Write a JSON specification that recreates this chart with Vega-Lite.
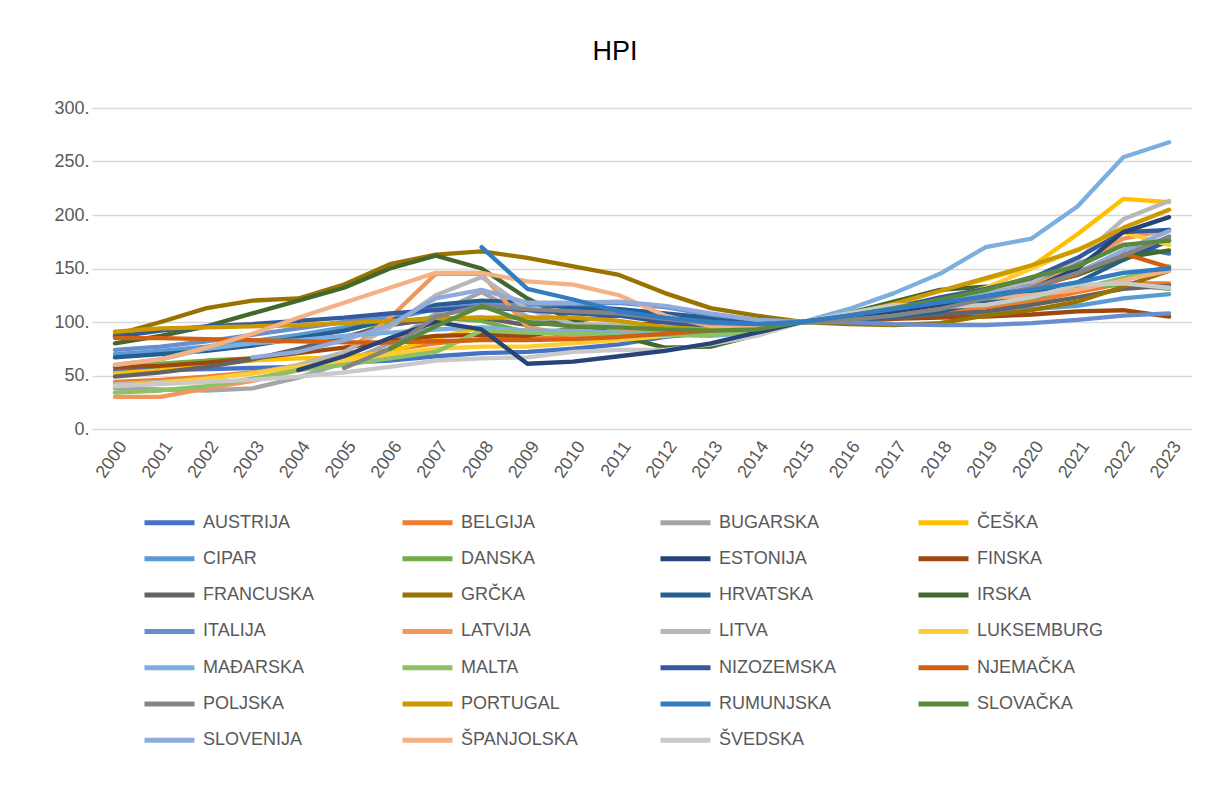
{
 "$schema": "https://vega.github.io/schema/vega-lite/v6.json",
 "width": 1100,
 "height": 321,
 "autosize": {"type": "none"},
 "padding": {"left": 92, "top": 108, "right": 17, "bottom": 365},
 "background": "white",
 "title": {"text": "HPI", "fontSize": 27, "font": "Liberation Sans", "fontWeight": "normal", "color": "#000000", "anchor": "middle", "offset": 33, "dx": -27},
 "data": {"values": [
  {"year":"2000","AUSTRIJA":55,"BELGIJA":44,"BUGARSKA":38,"ČEŠKA":52,"CIPAR":70,"DANSKA":58,"ESTONIJA":null,"FINSKA":58,"FRANCUSKA":49,"GRČKA":88,"HRVATSKA":67,"IRSKA":80,"ITALIJA":74,"LATVIJA":30,"LITVA":42,"LUKSEMBURG":40,"MAĐARSKA":60,"MALTA":34,"NIZOZEMSKA":86,"NJEMAČKA":85,"POLJSKA":null,"PORTUGAL":91,"RUMUNJSKA":null,"SLOVAČKA":null,"SLOVENIJA":null,"ŠPANJOLSKA":60,"ŠVEDSKA":40},
  {"year":"2001","AUSTRIJA":55,"BELGIJA":46,"BUGARSKA":37,"ČEŠKA":55,"CIPAR":73,"DANSKA":61,"ESTONIJA":null,"FINSKA":59,"FRANCUSKA":53,"GRČKA":100,"HRVATSKA":70,"IRSKA":87,"ITALIJA":77,"LATVIJA":30,"LITVA":44,"LUKSEMBURG":43,"MAĐARSKA":65,"MALTA":36,"NIZOZEMSKA":92,"NJEMAČKA":85,"POLJSKA":null,"PORTUGAL":94,"RUMUNJSKA":null,"SLOVAČKA":null,"SLOVENIJA":null,"ŠPANJOLSKA":65,"ŠVEDSKA":42},
  {"year":"2002","AUSTRIJA":56,"BELGIJA":49,"BUGARSKA":36,"ČEŠKA":60,"CIPAR":77,"DANSKA":64,"ESTONIJA":null,"FINSKA":62,"FRANCUSKA":58,"GRČKA":113,"HRVATSKA":73,"IRSKA":96,"ITALIJA":82,"LATVIJA":38,"LITVA":47,"LUKSEMBURG":47,"MAĐARSKA":75,"MALTA":40,"NIZOZEMSKA":96,"NJEMAČKA":84,"POLJSKA":null,"PORTUGAL":95,"RUMUNJSKA":null,"SLOVAČKA":null,"SLOVENIJA":null,"ŠPANJOLSKA":76,"ŠVEDSKA":44},
  {"year":"2003","AUSTRIJA":57,"BELGIJA":53,"BUGARSKA":38,"ČEŠKA":64,"CIPAR":82,"DANSKA":66,"ESTONIJA":null,"FINSKA":66,"FRANCUSKA":65,"GRČKA":120,"HRVATSKA":78,"IRSKA":108,"ITALIJA":88,"LATVIJA":45,"LITVA":52,"LUKSEMBURG":52,"MAĐARSKA":80,"MALTA":47,"NIZOZEMSKA":98,"NJEMAČKA":83,"POLJSKA":null,"PORTUGAL":96,"RUMUNJSKA":null,"SLOVAČKA":null,"SLOVENIJA":67,"ŠPANJOLSKA":89,"ŠVEDSKA":46},
  {"year":"2004","AUSTRIJA":58,"BELGIJA":58,"BUGARSKA":48,"ČEŠKA":66,"CIPAR":88,"DANSKA":72,"ESTONIJA":55,"FINSKA":71,"FRANCUSKA":75,"GRČKA":122,"HRVATSKA":85,"IRSKA":120,"ITALIJA":94,"LATVIJA":55,"LITVA":60,"LUKSEMBURG":58,"MAĐARSKA":83,"MALTA":55,"NIZOZEMSKA":101,"NJEMAČKA":82,"POLJSKA":null,"PORTUGAL":97,"RUMUNJSKA":null,"SLOVAČKA":null,"SLOVENIJA":72,"ŠPANJOLSKA":104,"ŠVEDSKA":49},
  {"year":"2005","AUSTRIJA":62,"BELGIJA":66,"BUGARSKA":62,"ČEŠKA":67,"CIPAR":95,"DANSKA":84,"ESTONIJA":68,"FINSKA":76,"FRANCUSKA":86,"GRČKA":135,"HRVATSKA":92,"IRSKA":132,"ITALIJA":100,"LATVIJA":70,"LITVA":72,"LUKSEMBURG":64,"MAĐARSKA":87,"MALTA":60,"NIZOZEMSKA":104,"NJEMAČKA":81,"POLJSKA":57,"PORTUGAL":99,"RUMUNJSKA":null,"SLOVAČKA":null,"SLOVENIJA":83,"ŠPANJOLSKA":118,"ŠVEDSKA":53},
  {"year":"2006","AUSTRIJA":64,"BELGIJA":74,"BUGARSKA":80,"ČEŠKA":72,"CIPAR":103,"DANSKA":100,"ESTONIJA":85,"FINSKA":82,"FRANCUSKA":97,"GRČKA":154,"HRVATSKA":102,"IRSKA":150,"ITALIJA":106,"LATVIJA":104,"LITVA":95,"LUKSEMBURG":70,"MAĐARSKA":90,"MALTA":66,"NIZOZEMSKA":108,"NJEMAČKA":81,"POLJSKA":75,"PORTUGAL":101,"RUMUNJSKA":null,"SLOVAČKA":75,"SLOVENIJA":97,"ŠPANJOLSKA":132,"ŠVEDSKA":58},
  {"year":"2007","AUSTRIJA":68,"BELGIJA":80,"BUGARSKA":108,"ČEŠKA":85,"CIPAR":112,"DANSKA":104,"ESTONIJA":100,"FINSKA":87,"FRANCUSKA":103,"GRČKA":163,"HRVATSKA":116,"IRSKA":162,"ITALIJA":112,"LATVIJA":145,"LITVA":125,"LUKSEMBURG":75,"MAĐARSKA":93,"MALTA":72,"NIZOZEMSKA":111,"NJEMAČKA":82,"POLJSKA":105,"PORTUGAL":103,"RUMUNJSKA":null,"SLOVAČKA":96,"SLOVENIJA":122,"ŠPANJOLSKA":146,"ŠVEDSKA":64},
  {"year":"2008","AUSTRIJA":71,"BELGIJA":84,"BUGARSKA":128,"ČEŠKA":95,"CIPAR":118,"DANSKA":101,"ESTONIJA":93,"FINSKA":88,"FRANCUSKA":104,"GRČKA":166,"HRVATSKA":120,"IRSKA":150,"ITALIJA":116,"LATVIJA":145,"LITVA":142,"LUKSEMBURG":77,"MAĐARSKA":95,"MALTA":92,"NIZOZEMSKA":114,"NJEMAČKA":83,"POLJSKA":115,"PORTUGAL":104,"RUMUNJSKA":170,"SLOVAČKA":115,"SLOVENIJA":130,"ŠPANJOLSKA":146,"ŠVEDSKA":66},
  {"year":"2009","AUSTRIJA":72,"BELGIJA":84,"BUGARSKA":105,"ČEŠKA":92,"CIPAR":117,"DANSKA":90,"ESTONIJA":61,"FINSKA":87,"FRANCUSKA":97,"GRČKA":160,"HRVATSKA":118,"IRSKA":122,"ITALIJA":116,"LATVIJA":95,"LITVA":112,"LUKSEMBURG":77,"MAĐARSKA":92,"MALTA":90,"NIZOZEMSKA":111,"NJEMAČKA":83,"POLJSKA":112,"PORTUGAL":104,"RUMUNJSKA":131,"SLOVAČKA":100,"SLOVENIJA":118,"ŠPANJOLSKA":138,"ŠVEDSKA":67},
  {"year":"2010","AUSTRIJA":75,"BELGIJA":87,"BUGARSKA":95,"ČEŠKA":91,"CIPAR":116,"DANSKA":91,"ESTONIJA":63,"FINSKA":94,"FRANCUSKA":101,"GRČKA":152,"HRVATSKA":113,"IRSKA":101,"ITALIJA":117,"LATVIJA":88,"LITVA":98,"LUKSEMBURG":80,"MAĐARSKA":92,"MALTA":89,"NIZOZEMSKA":108,"NJEMAČKA":84,"POLJSKA":110,"PORTUGAL":104,"RUMUNJSKA":121,"SLOVAČKA":96,"SLOVENIJA":118,"ŠPANJOLSKA":135,"ŠVEDSKA":72},
  {"year":"2011","AUSTRIJA":79,"BELGIJA":90,"BUGARSKA":93,"ČEŠKA":90,"CIPAR":112,"DANSKA":89,"ESTONIJA":68,"FINSKA":97,"FRANCUSKA":106,"GRČKA":144,"HRVATSKA":112,"IRSKA":87,"ITALIJA":118,"LATVIJA":90,"LITVA":97,"LUKSEMBURG":83,"MAĐARSKA":90,"MALTA":88,"NIZOZEMSKA":106,"NJEMAČKA":86,"POLJSKA":108,"PORTUGAL":101,"RUMUNJSKA":110,"SLOVAČKA":95,"SLOVENIJA":119,"ŠPANJOLSKA":125,"ŠVEDSKA":74},
  {"year":"2012","AUSTRIJA":86,"BELGIJA":93,"BUGARSKA":93,"ČEŠKA":89,"CIPAR":107,"DANSKA":87,"ESTONIJA":73,"FINSKA":99,"FRANCUSKA":106,"GRČKA":127,"HRVATSKA":108,"IRSKA":76,"ITALIJA":114,"LATVIJA":90,"LITVA":96,"LUKSEMBURG":87,"MAĐARSKA":88,"MALTA":88,"NIZOZEMSKA":100,"NJEMAČKA":89,"POLJSKA":103,"PORTUGAL":95,"RUMUNJSKA":104,"SLOVAČKA":93,"SLOVENIJA":115,"ŠPANJOLSKA":106,"ŠVEDSKA":74},
  {"year":"2013","AUSTRIJA":90,"BELGIJA":96,"BUGARSKA":92,"ČEŠKA":90,"CIPAR":101,"DANSKA":89,"ESTONIJA":80,"FINSKA":100,"FRANCUSKA":103,"GRČKA":113,"HRVATSKA":104,"IRSKA":77,"ITALIJA":107,"LATVIJA":91,"LITVA":96,"LUKSEMBURG":91,"MAĐARSKA":87,"MALTA":88,"NIZOZEMSKA":94,"NJEMAČKA":92,"POLJSKA":99,"PORTUGAL":93,"RUMUNJSKA":100,"SLOVAČKA":92,"SLOVENIJA":108,"ŠPANJOLSKA":96,"ŠVEDSKA":79},
  {"year":"2014","AUSTRIJA":96,"BELGIJA":98,"BUGARSKA":94,"ČEŠKA":93,"CIPAR":98,"DANSKA":94,"ESTONIJA":90,"FINSKA":100,"FRANCUSKA":101,"GRČKA":106,"HRVATSKA":101,"IRSKA":88,"ITALIJA":102,"LATVIJA":97,"LITVA":98,"LUKSEMBURG":95,"MAĐARSKA":90,"MALTA":91,"NIZOZEMSKA":95,"NJEMAČKA":95,"POLJSKA":98,"PORTUGAL":96,"RUMUNJSKA":98,"SLOVAČKA":93,"SLOVENIJA":102,"ŠPANJOLSKA":96,"ŠVEDSKA":87},
  {"year":"2015","AUSTRIJA":100,"BELGIJA":100,"BUGARSKA":100,"ČEŠKA":100,"CIPAR":100,"DANSKA":100,"ESTONIJA":100,"FINSKA":100,"FRANCUSKA":100,"GRČKA":100,"HRVATSKA":100,"IRSKA":100,"ITALIJA":100,"LATVIJA":100,"LITVA":100,"LUKSEMBURG":100,"MAĐARSKA":100,"MALTA":100,"NIZOZEMSKA":100,"NJEMAČKA":100,"POLJSKA":100,"PORTUGAL":100,"RUMUNJSKA":100,"SLOVAČKA":100,"SLOVENIJA":100,"ŠPANJOLSKA":100,"ŠVEDSKA":100},
  {"year":"2016","AUSTRIJA":108,"BELGIJA":102,"BUGARSKA":107,"ČEŠKA":107,"CIPAR":102,"DANSKA":104,"ESTONIJA":105,"FINSKA":101,"FRANCUSKA":101,"GRČKA":98,"HRVATSKA":101,"IRSKA":108,"ITALIJA":100,"LATVIJA":107,"LITVA":105,"LUKSEMBURG":106,"MAĐARSKA":112,"MALTA":105,"NIZOZEMSKA":105,"NJEMAČKA":105,"POLJSKA":102,"PORTUGAL":107,"RUMUNJSKA":106,"SLOVAČKA":106,"SLOVENIJA":103,"ŠPANJOLSKA":104,"ŠVEDSKA":108},
  {"year":"2017","AUSTRIJA":114,"BELGIJA":106,"BUGARSKA":115,"ČEŠKA":119,"CIPAR":104,"DANSKA":109,"ESTONIJA":110,"FINSKA":103,"FRANCUSKA":104,"GRČKA":97,"HRVATSKA":105,"IRSKA":119,"ITALIJA":98,"LATVIJA":113,"LITVA":113,"LUKSEMBURG":112,"MAĐARSKA":127,"MALTA":110,"NIZOZEMSKA":113,"NJEMAČKA":110,"POLJSKA":106,"PORTUGAL":117,"RUMUNJSKA":112,"SLOVAČKA":113,"SLOVENIJA":112,"ŠPANJOLSKA":110,"ŠVEDSKA":116},
  {"year":"2018","AUSTRIJA":120,"BELGIJA":109,"BUGARSKA":122,"ČEŠKA":129,"CIPAR":106,"DANSKA":113,"ESTONIJA":116,"FINSKA":104,"FRANCUSKA":107,"GRČKA":99,"HRVATSKA":110,"IRSKA":130,"ITALIJA":97,"LATVIJA":120,"LITVA":120,"LUKSEMBURG":120,"MAĐARSKA":145,"MALTA":116,"NIZOZEMSKA":123,"NJEMAČKA":116,"POLJSKA":112,"PORTUGAL":129,"RUMUNJSKA":118,"SLOVAČKA":121,"SLOVENIJA":120,"ŠPANJOLSKA":117,"ŠVEDSKA":114},
  {"year":"2019","AUSTRIJA":128,"BELGIJA":114,"BUGARSKA":130,"ČEŠKA":140,"CIPAR":109,"DANSKA":117,"ESTONIJA":124,"FINSKA":105,"FRANCUSKA":110,"GRČKA":106,"HRVATSKA":119,"IRSKA":133,"ITALIJA":97,"LATVIJA":127,"LITVA":129,"LUKSEMBURG":132,"MAĐARSKA":170,"MALTA":122,"NIZOZEMSKA":131,"NJEMAČKA":122,"POLJSKA":122,"PORTUGAL":141,"RUMUNJSKA":124,"SLOVAČKA":130,"SLOVENIJA":127,"ŠPANJOLSKA":123,"ŠVEDSKA":116},
  {"year":"2020","AUSTRIJA":138,"BELGIJA":119,"BUGARSKA":136,"ČEŠKA":152,"CIPAR":112,"DANSKA":122,"ESTONIJA":131,"FINSKA":107,"FRANCUSKA":116,"GRČKA":111,"HRVATSKA":128,"IRSKA":133,"ITALIJA":99,"LATVIJA":133,"LITVA":138,"LUKSEMBURG":150,"MAĐARSKA":178,"MALTA":125,"NIZOZEMSKA":141,"NJEMAČKA":131,"POLJSKA":132,"PORTUGAL":153,"RUMUNJSKA":130,"SLOVAČKA":142,"SLOVENIJA":133,"ŠPANJOLSKA":125,"ŠVEDSKA":123},
  {"year":"2021","AUSTRIJA":154,"BELGIJA":128,"BUGARSKA":147,"ČEŠKA":182,"CIPAR":115,"DANSKA":133,"ESTONIJA":150,"FINSKA":110,"FRANCUSKA":123,"GRČKA":119,"HRVATSKA":137,"IRSKA":144,"ITALIJA":102,"LATVIJA":152,"LITVA":158,"LUKSEMBURG":168,"MAĐARSKA":208,"MALTA":131,"NIZOZEMSKA":160,"NJEMAČKA":145,"POLJSKA":146,"PORTUGAL":167,"RUMUNJSKA":137,"SLOVAČKA":152,"SLOVENIJA":146,"ŠPANJOLSKA":130,"ŠVEDSKA":135},
  {"year":"2022","AUSTRIJA":172,"BELGIJA":136,"BUGARSKA":164,"ČEŠKA":215,"CIPAR":122,"DANSKA":135,"ESTONIJA":184,"FINSKA":111,"FRANCUSKA":131,"GRČKA":133,"HRVATSKA":158,"IRSKA":160,"ITALIJA":106,"LATVIJA":178,"LITVA":196,"LUKSEMBURG":184,"MAĐARSKA":254,"MALTA":141,"NIZOZEMSKA":184,"NJEMAČKA":164,"POLJSKA":162,"PORTUGAL":188,"RUMUNJSKA":146,"SLOVAČKA":172,"SLOVENIJA":167,"ŠPANJOLSKA":139,"ŠVEDSKA":136},
  {"year":"2023","AUSTRIJA":164,"BELGIJA":136,"BUGARSKA":178,"ČEŠKA":212,"CIPAR":126,"DANSKA":131,"ESTONIJA":198,"FINSKA":105,"FRANCUSKA":134,"GRČKA":148,"HRVATSKA":176,"IRSKA":167,"ITALIJA":108,"LATVIJA":186,"LITVA":213,"LUKSEMBURG":172,"MAĐARSKA":268,"MALTA":152,"NIZOZEMSKA":186,"NJEMAČKA":151,"POLJSKA":180,"PORTUGAL":205,"RUMUNJSKA":150,"SLOVAČKA":176,"SLOVENIJA":185,"ŠPANJOLSKA":148,"ŠVEDSKA":132}
 ]},
 "transform": [
  {"fold": ["AUSTRIJA","BELGIJA","BUGARSKA","ČEŠKA","CIPAR","DANSKA","ESTONIJA","FINSKA","FRANCUSKA","GRČKA","HRVATSKA","IRSKA","ITALIJA","LATVIJA","LITVA","LUKSEMBURG","MAĐARSKA","MALTA","NIZOZEMSKA","NJEMAČKA","POLJSKA","PORTUGAL","RUMUNJSKA","SLOVAČKA","SLOVENIJA","ŠPANJOLSKA","ŠVEDSKA"], "as": ["country", "value"]},
  {"filter": "datum.value != null"}
 ],
 "mark": {"type": "line", "strokeWidth": 4.3, "strokeCap": "round", "strokeJoin": "round"},
 "encoding": {
  "x": {"field": "year", "type": "ordinal", "scale": {"type": "point", "padding": 0.5},
        "axis": {"title": null, "labelAngle": -55, "labelFontSize": 18, "labelColor": "#595959", "labelFont": "Liberation Sans", "ticks": false, "domain": false, "grid": false, "labelPadding": 14, "labelOffset": 8}},
  "y": {"field": "value", "type": "quantitative", "scale": {"domain": [0, 300], "nice": false},
        "axis": {"title": null, "values": [0, 50, 100, 150, 200, 250, 300], "labelExpr": "datum.value + '.'", "labelFontSize": 18, "labelColor": "#595959", "labelFont": "Liberation Sans", "ticks": false, "domain": false, "gridColor": "#D9D9D9", "gridWidth": 1.5, "labelPadding": 3}},
  "color": {"field": "country", "type": "nominal",
   "scale": {"domain": ["AUSTRIJA","BELGIJA","BUGARSKA","ČEŠKA","CIPAR","DANSKA","ESTONIJA","FINSKA","FRANCUSKA","GRČKA","HRVATSKA","IRSKA","ITALIJA","LATVIJA","LITVA","LUKSEMBURG","MAĐARSKA","MALTA","NIZOZEMSKA","NJEMAČKA","POLJSKA","PORTUGAL","RUMUNJSKA","SLOVAČKA","SLOVENIJA","ŠPANJOLSKA","ŠVEDSKA"],
             "range": ["#4472C4","#ED7D31","#A5A5A5","#FFC000","#5B9BD5","#70AD47","#264478","#9E480E","#636363","#997300","#255E91","#43682B","#698ED0","#F1975A","#B7B7B7","#FFCD33","#7CAFDD","#8CC168","#335AA1","#D26012","#848484","#CC9A00","#327DC2","#5A8A39","#8FAADC","#F4B183","#C9C9C9"]},
   "legend": {"title": null, "orient": "none", "legendX": 65, "legendY": 402, "direction": "horizontal", "columns": 4, "symbolType": "M-2.5,0L2.5,0", "symbolSize": 400, "symbolStrokeWidth": 5, "labelFontSize": 18, "labelColor": "#595959", "labelFont": "Liberation Sans", "labelOffset": 21, "columnPadding": 62, "rowPadding": 13.3, "gridAlign": "all", "labelLimit": 200}}
 },
 "config": {"view": {"stroke": null}}
}
